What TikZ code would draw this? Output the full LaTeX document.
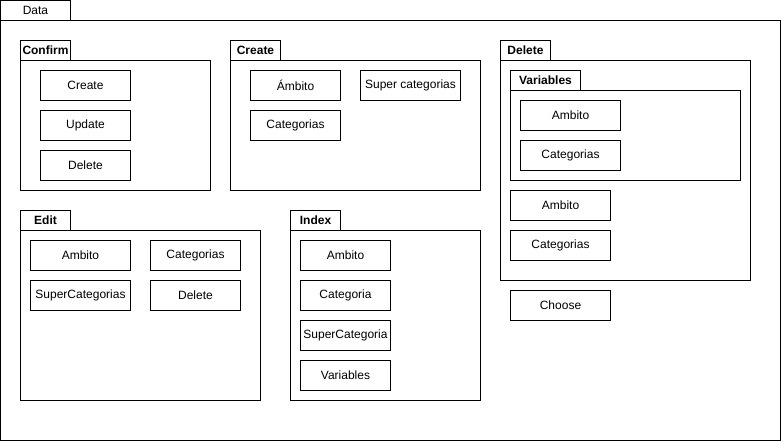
\documentclass[tikz,border=0pt]{standalone}
\usepackage{fontspec}
\setmainfont{Liberation Sans}
\begin{document}
\begin{tikzpicture}[x=0.75pt, y=-0.75pt, line width=0.75pt,
  font=\fontsize{9}{11}\selectfont,
  tab/.style={draw, anchor=south west, minimum width=37.5pt, minimum height=15pt,
    inner sep=0pt, outer sep=0pt, font=\fontsize{9}{11}\selectfont\bfseries},
  pkg/.style={draw, anchor=north west, inner sep=0pt, outer sep=0pt},
  item/.style={draw, minimum width=67.5pt, minimum height=22.5pt, inner sep=0pt},
  wide/.style={item, minimum width=75pt}]
  \useasboundingbox (0,0) rectangle (781,441);

  % Draw outer package
  \node[tab, minimum width=52.5pt, font=\fontsize{9}{11}\selectfont] (datatab) at (0.5,20.5) {Data};
  \node[pkg, minimum width=585pt, minimum height=315pt] (data) at (0.5,20.5) {};

  % Draw Confirm
  \node[tab] (conftab) at (20.5,60.5) {Confirm};
  \node[pkg, minimum width=142.5pt, minimum height=97.5pt] (confirm) at (20.5,60.5) {};
  \node[item] (confcreate) at (85.5,85.5) {Create};
  \node[item] (confupdate) at (85.5,125.5) {Update};
  \node[item] (confdelete) at (85.5,165.5) {Delete};

  % Draw Create
  \node[tab] (createtab) at (230.5,60.5) {Create};
  \node[pkg, minimum width=187.5pt, minimum height=97.5pt] (create) at (230.5,60.5) {};
  \node[item] (crambito) at (295.5,85.5) {Ámbito};
  \node[wide] (crsuper) at (410.5,85.5) {Super categorias};
  \node[item] (crcateg) at (295.5,125.5) {Categorias};

  % Draw Delete
  \node[tab] (deltab) at (500.5,60.5) {Delete};
  \node[pkg, minimum width=187.5pt, minimum height=165pt] (delete) at (500.5,60.5) {};
  \node[tab, minimum width=52.5pt] (vartab) at (510.5,90.5) {Variables};
  \node[pkg, minimum width=172.5pt, minimum height=67.5pt] (variables) at (510.5,90.5) {};
  \node[wide] (varambito) at (570.5,115.5) {Ambito};
  \node[wide] (varcateg) at (570.5,155.5) {Categorias};
  \node[wide] (delambito) at (560.5,205.5) {Ambito};
  \node[wide] (delcateg) at (560.5,245.5) {Categorias};
  \node[wide] (choose) at (560.5,305.5) {Choose};

  % Draw Edit
  \node[tab] (edittab) at (20.5,230.5) {Edit};
  \node[pkg, minimum width=180pt, minimum height=127.5pt] (edit) at (20.5,230.5) {};
  \node[wide] (edambito) at (80.5,255.5) {Ambito};
  \node[item] (edcateg) at (195.5,255.5) {Categorias};
  \node[wide] (edsuper) at (80.5,295.5) {SuperCategorias};
  \node[item] (eddelete) at (195.5,295.5) {Delete};

  % Draw Index
  \node[tab] (idxtab) at (290.5,230.5) {Index};
  \node[pkg, minimum width=142.5pt, minimum height=127.5pt] (index) at (290.5,230.5) {};
  \foreach \name/\txt [count=\i] in {idxambito/Ambito, idxcateg/Categoria,
      idxsuper/SuperCategoria, idxvars/Variables} {
    \node[item] (\name) at (345.5,215.5+40*\i) {\txt};
  }
\end{tikzpicture}
\end{document}
